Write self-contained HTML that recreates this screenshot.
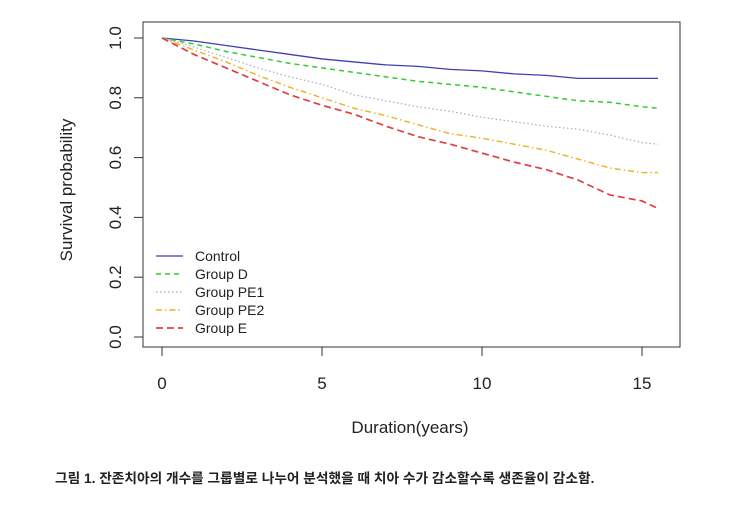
<!DOCTYPE html>
<html><head><meta charset="utf-8"><style>
body{margin:0;background:#fff;width:743px;height:501px;overflow:hidden;font-family:"Liberation Sans",sans-serif}
svg text{font-family:"Liberation Sans","Noto Sans CJK KR",sans-serif;fill:#222}
</style></head><body>
<svg width="743" height="501">
<rect x="143" y="22" width="537" height="325" fill="none" stroke="#333" stroke-width="1"/>
<g id="axes"></g><g id="series"></g><g id="legend"></g>
<text x="410" y="433" font-size="17" text-anchor="middle">Duration(years)</text>
<text transform="translate(72,190) rotate(-90)" font-size="17" text-anchor="middle">Survival probability</text>
<text x="55" y="483" font-size="13.7" font-weight="bold">그림 1. 잔존치아의 개수를 그룹별로 나누어 분석했을 때 치아 수가 감소할수록 생존율이 감소함.</text>
</svg>
<script>
const times=[0,1,2,3,4,5,6,7,8,9,10,11,12,13,14,15,15.5];
const control=[1,.99,.975,.96,.945,.93,.92,.91,.905,.895,.89,.88,.875,.865,.865,.865,.865];
const groupD=[1,.98,.955,.935,.915,.9,.885,.87,.855,.845,.835,.82,.805,.79,.785,.77,.765];
const groupPE1=[1,.97,.935,.9,.87,.845,.81,.79,.77,.755,.735,.72,.705,.695,.675,.65,.645];
const groupPE2=[1,.96,.92,.875,.835,.8,.765,.74,.71,.68,.665,.645,.625,.595,.565,.55,.55];
const groupE=[1,.945,.9,.855,.81,.775,.745,.705,.67,.645,.615,.585,.56,.525,.475,.455,.43];
const xTicks=[0,5,10,15];
const yTicks=[0,0.2,0.4,0.6,0.8,1.0];
const yTickLabels=["0.0","0.2","0.4","0.6","0.8","1.0"];
const seriesNames=["Control","Group D","Group PE1","Group PE2","Group E"];
const NS="http://www.w3.org/2000/svg";
const X=t=>162+t*32, Y=v=>337-v*299;
function mk(tag,attrs,parent){const e=document.createElementNS(NS,tag);for(const k in attrs)e.setAttribute(k,attrs[k]);parent.appendChild(e);return e;}
const ax=document.getElementById('axes');
xTicks.forEach(t=>{const l=mk('line',{x1:X(t),x2:X(t),y1:347,y2:356,stroke:'#333'},ax);


const tx=mk('text',{x:X(t),y:389,'font-size':17,'text-anchor':'middle'},ax);tx.textContent=t;

});
yTicks.forEach((v,i)=>{const l=mk('line',{x1:134,x2:143,y1:Y(v),y2:Y(v),stroke:'#333'},ax);


const tx=mk('text',{transform:`translate(121,${Y(v)}) rotate(-90)`,'font-size':17,'text-anchor':'middle'},ax);tx.textContent=yTickLabels[i];

});
const styles=[{c:'#3f3fb0',d:'',w:1.3},{c:'#33cc33',d:'5,4',w:1.5},{c:'#a8a8c8',d:'1.5,2.5',w:1.2},{c:'#f0b020',d:'6,3,1.5,3',w:1.4},{c:'#dd4040',d:'7,4',w:1.7}];
const data=[control,groupD,groupPE1,groupPE2,groupE];
const sg=document.getElementById('series');
data.forEach((vals,i)=>{let d='';vals.forEach((v,j)=>{d+=(j?'L':'M')+X(times[j])+','+Y(v)+' ';});
const p=mk('path',{d:d,fill:'none',stroke:styles[i].c,'stroke-width':styles[i].w,'stroke-dasharray':styles[i].d},sg);

});
const lg=document.getElementById('legend');
seriesNames.forEach((n,i)=>{const y=256+i*18;
const l=mk('line',{x1:156,x2:183,y1:y,y2:y,stroke:styles[i].c,'stroke-width':styles[i].w,'stroke-dasharray':styles[i].d},lg);


const t=mk('text',{x:195,y:y+5,'font-size':14},lg);t.textContent=n;

});
</script>
</body></html>
